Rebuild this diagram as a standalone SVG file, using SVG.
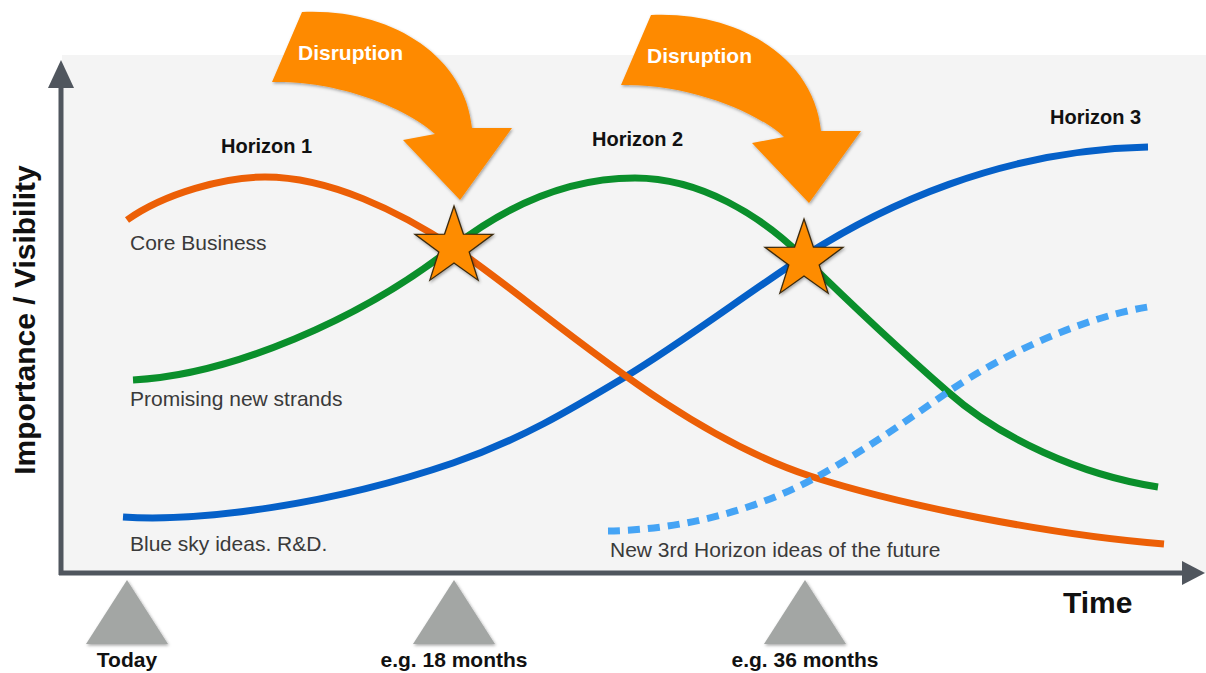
<svg xmlns="http://www.w3.org/2000/svg" width="1206" height="673" viewBox="0 0 1206 673">
  <style>
    .bold { font-family: "Liberation Sans", Arial, sans-serif; font-weight: bold; fill: #111; }
    .label { font-family: "Liberation Sans", Arial, sans-serif; font-size: 21px; fill: #3a3a3a; }
    .horizon { font-size: 20px; }
    .milestone-text { font-size: 21px; text-anchor: middle; }
    .axis-title { font-size: 30px; }
    .disrupt-text { font-family: "Liberation Sans", Arial, sans-serif; font-weight: bold; font-size: 21px; fill: #ffffff; }
    .curve { fill: none; stroke-width: 7; stroke-linecap: butt; }
    .axis { stroke: #50565e; stroke-width: 5; fill: none; }
    .axis-head { fill: #50565e; }
    .milestone { fill: #a3a6a4; }
    .star { fill: #fe8c00; stroke: #3a2a10; stroke-width: 1.3; stroke-linejoin: miter; }
    .disrupt { fill: #fe8a00; }
  </style>
  <defs>
    <filter id="shadow" x="-20%" y="-20%" width="140%" height="140%">
      <feDropShadow dx="1" dy="1.5" stdDeviation="1.5" flood-color="#000" flood-opacity="0.35"/>
    </filter>
    <path id="star-shape" d="M0,-41 L9.4,-12.94 L39,-12.67 L15.2,4.94 L24.1,33.17 L0,16 L-24.1,33.17 L-15.2,4.94 L-39,-12.67 L-9.4,-12.94 Z"/>
    <path id="disrupt-shape" d="M302,12 C390,8 465,55 472,128 L512,128 L460,200 L403,140 L435,134 C410,110 340,80 272,82 Z"/>
    <polygon id="milestone-shape" points="0,0 41,64 -41,64"/>
  </defs>

  <!-- chart background -->
  <rect x="62" y="55" width="1144" height="518" fill="#f4f4f4"/>

  <!-- axes -->
  <g id="axes">
    <line class="axis" x1="61" y1="575" x2="61" y2="84"/>
    <polygon class="axis-head" points="61,60 74,88 48,88"/>
    <line class="axis" x1="59" y1="573" x2="1186" y2="573"/>
    <polygon class="axis-head" points="1205,573 1182,561 1182,585"/>
  </g>

  <!-- horizon curves -->
  <g id="connectors">
    <path id="curve-blue" class="curve" stroke="#0560c8" d="M123,517 C200,522 330,505 453,463 C520,440 570,410 625,377 C680,344 745,295 803,257 C880,207 1000,150 1148,147"/>
    <path id="curve-green" class="curve" stroke="#0a8f2b" d="M133,380 C230,375 360,320 453,247 C510,203 570,178 635,178 C700,178 760,215 803,257 C850,303 900,350 948,392 C1000,438 1080,475 1158,487"/>
    <path id="curve-orange" class="curve" stroke="#ec5f06" d="M127,220 C165,193 225,177 265,177 C330,177 400,212 453,247 C540,305 670,430 810,476 C900,505 1050,535 1164,544"/>
    <path id="curve-future" class="curve" stroke="#45a4f5" stroke-width="6" stroke-dasharray="12 8" d="M608,531 C680,530 760,510 822,474 C870,447 910,418 948,392 C1000,356 1080,318 1148,307"/>
  </g>

  <!-- crossing stars -->
  <g id="star-1" filter="url(#shadow)">
    <use href="#star-shape" class="star" transform="translate(454,247)"/>
  </g>
  <g id="star-2" filter="url(#shadow)">
    <use href="#star-shape" class="star" transform="translate(804,260)"/>
  </g>

  <!-- disruption arrows -->
  <g id="disruption-1">
    <use href="#disrupt-shape" class="disrupt" filter="url(#shadow)"/>
    <text class="disrupt-text" x="298" y="60">Disruption</text>
  </g>
  <g id="disruption-2">
    <use href="#disrupt-shape" class="disrupt" filter="url(#shadow)" transform="translate(349,3)"/>
    <text class="disrupt-text" x="647" y="63">Disruption</text>
  </g>

  <!-- horizon titles -->
  <g id="horizon-1"><text class="bold horizon" x="221" y="153">Horizon 1</text></g>
  <g id="horizon-2"><text class="bold horizon" x="592" y="146">Horizon 2</text></g>
  <g id="horizon-3"><text class="bold horizon" x="1050" y="124">Horizon 3</text></g>

  <!-- curve labels -->
  <g id="label-core"><text class="label" x="130" y="250">Core Business</text></g>
  <g id="label-promising"><text class="label" x="130" y="406">Promising new strands</text></g>
  <g id="label-bluesky"><text class="label" x="130" y="551">Blue sky ideas. R&amp;D.</text></g>
  <g id="label-future"><text class="label" x="610" y="557">New 3rd Horizon ideas of the future</text></g>

  <!-- axis titles -->
  <g id="axis-y-title">
    <text class="bold axis-title" text-anchor="middle" transform="translate(35,320) rotate(-90)">Importance / Visibility</text>
  </g>
  <g id="axis-x-title">
    <text class="bold axis-title" x="1063" y="613">Time</text>
  </g>

  <!-- milestones -->
  <g id="milestone-today">
    <use href="#milestone-shape" class="milestone" filter="url(#shadow)" transform="translate(127,580)"/>
    <text class="bold milestone-text" x="127" y="667">Today</text>
  </g>
  <g id="milestone-18">
    <use href="#milestone-shape" class="milestone" filter="url(#shadow)" transform="translate(454,580)"/>
    <text class="bold milestone-text" x="454" y="667">e.g. 18 months</text>
  </g>
  <g id="milestone-36">
    <use href="#milestone-shape" class="milestone" filter="url(#shadow)" transform="translate(805,580)"/>
    <text class="bold milestone-text" x="805" y="667">e.g. 36 months</text>
  </g>
</svg>
